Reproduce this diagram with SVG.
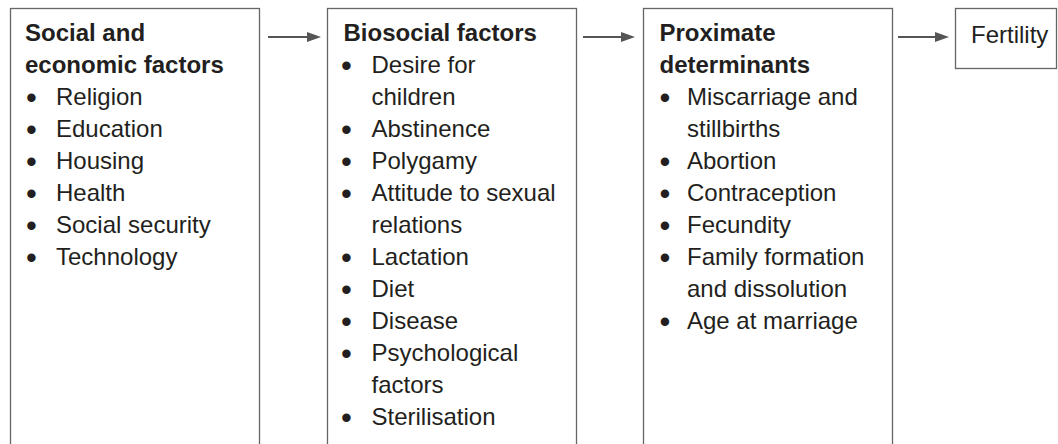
<svg xmlns="http://www.w3.org/2000/svg" width="1058" height="444" viewBox="0 0 1058 444">
<style>
.box{fill:#fff;stroke:#666;stroke-width:1.3}
text{font-family:"Liberation Sans",Arial,Helvetica,sans-serif;font-size:24px;fill:#231f20}
.t{font-weight:bold}
.b{font-size:31px}
.arr{stroke:#555;stroke-width:2.2;fill:none}
.head{fill:#555}
</style>
<rect width="1058" height="444" fill="#fff"/>
<g id="connectors">
<line class="arr" x1="268" y1="37" x2="310" y2="37"/><polygon class="head" points="321,37 307,32 307,42"/>
<line class="arr" x1="583" y1="37" x2="624" y2="37"/><polygon class="head" points="635,37 621,32 621,42"/>
<line class="arr" x1="898" y1="37" x2="938" y2="37"/><polygon class="head" points="949,37 935,32 935,42"/>
</g>
<g id="social">
<rect class="box" x="10.5" y="8.5" width="249" height="460"/>
<text class="t" x="25" y="41">Social and</text>
<text class="t" x="25" y="73">economic factors</text>
<text class="b" x="26" y="107.5">•</text><text x="56" y="105">Religion</text>
<text class="b" x="26" y="139.5">•</text><text x="56" y="137">Education</text>
<text class="b" x="26" y="171.5">•</text><text x="56" y="169">Housing</text>
<text class="b" x="26" y="203.5">•</text><text x="56" y="201">Health</text>
<text class="b" x="26" y="235.5">•</text><text x="56" y="233">Social security</text>
<text class="b" x="26" y="267.5">•</text><text x="56" y="265">Technology</text>
</g>
<g id="biosocial">
<rect class="box" x="327.5" y="8.5" width="249" height="460"/>
<text class="t" x="343.5" y="41">Biosocial factors</text>
<text class="b" x="341" y="75.5">•</text><text x="371.5" y="73">Desire for</text>
<text x="371.5" y="105">children</text>
<text class="b" x="341" y="139.5">•</text><text x="371.5" y="137">Abstinence</text>
<text class="b" x="341" y="171.5">•</text><text x="371.5" y="169">Polygamy</text>
<text class="b" x="341" y="203.5">•</text><text x="371.5" y="201">Attitude to sexual</text>
<text x="371.5" y="233">relations</text>
<text class="b" x="341" y="267.5">•</text><text x="371.5" y="265">Lactation</text>
<text class="b" x="341" y="299.5">•</text><text x="371.5" y="297">Diet</text>
<text class="b" x="341" y="331.5">•</text><text x="371.5" y="329">Disease</text>
<text class="b" x="341" y="363.5">•</text><text x="371.5" y="361">Psychological</text>
<text x="371.5" y="393">factors</text>
<text class="b" x="341" y="427.5">•</text><text x="371.5" y="425">Sterilisation</text>
</g>
<g id="proximate">
<rect class="box" x="643.5" y="8.5" width="249" height="460"/>
<text class="t" x="659.5" y="41">Proximate</text>
<text class="t" x="659.5" y="73">determinants</text>
<text class="b" x="659.5" y="107.5">•</text><text x="687" y="105">Miscarriage and</text>
<text x="687" y="137">stillbirths</text>
<text class="b" x="659.5" y="171.5">•</text><text x="687" y="169">Abortion</text>
<text class="b" x="659.5" y="203.5">•</text><text x="687" y="201">Contraception</text>
<text class="b" x="659.5" y="235.5">•</text><text x="687" y="233">Fecundity</text>
<text class="b" x="659.5" y="267.5">•</text><text x="687" y="265">Family formation</text>
<text x="687" y="297">and dissolution</text>
<text class="b" x="659.5" y="331.5">•</text><text x="687" y="329">Age at marriage</text>
</g>
<g id="fertility">
<rect class="box" x="955.5" y="8.5" width="101" height="60"/>
<text x="971" y="43">Fertility</text>
</g>
</svg>
